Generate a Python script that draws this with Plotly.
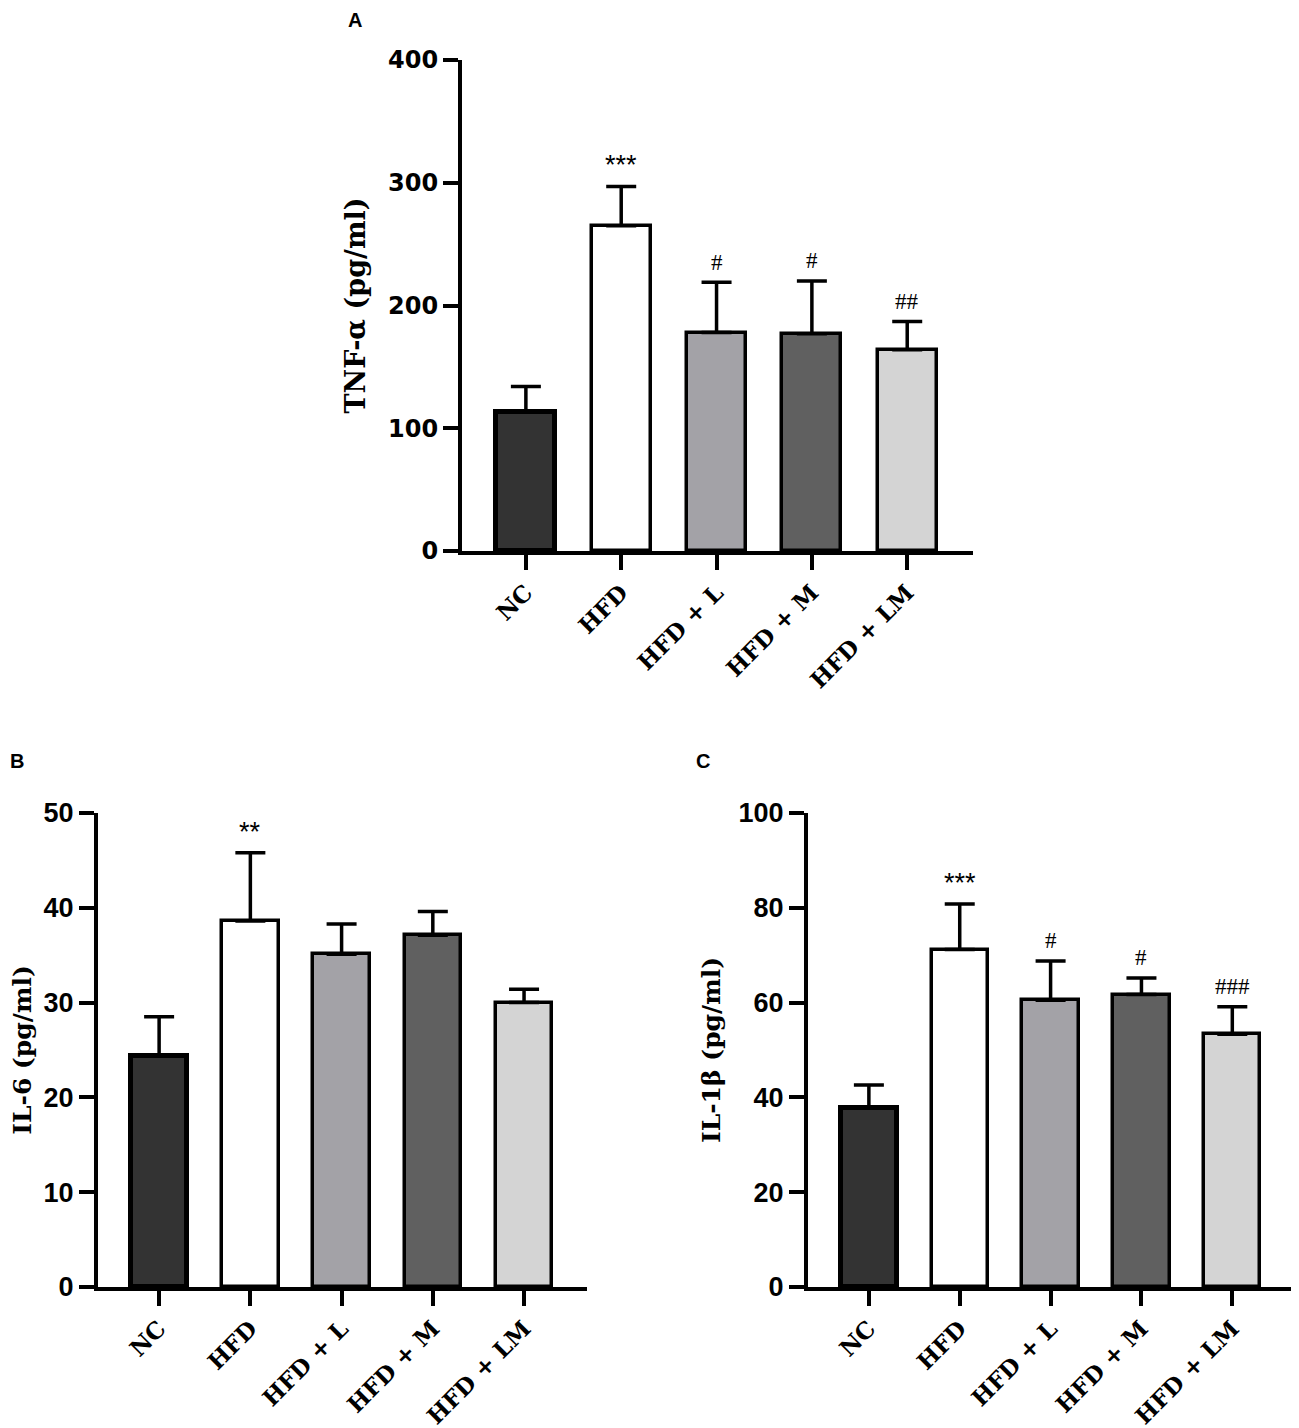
import plotly.graph_objects as go


# Groups and bar colours
groups = ["NC", "HFD", "HFD + L", "HFD + M", "HFD + LM"]
bar_colors = ["#333333", "#ffffff", "#a3a2a7", "#606060", "#d4d4d4"]

# Panel A: TNF-alpha (pg/ml)
tnf_mean = [113, 265, 178, 177, 164]
tnf_err = [21, 32, 41, 43, 23]
tnf_sig = ["", "***", "#", "#", "##"]

# Panel B: IL-6 (pg/ml)
il6_mean = [24.4, 38.6, 35.1, 37.1, 30.0]
il6_err = [4.1, 7.2, 3.2, 2.5, 1.4]
il6_sig = ["", "**", "", "", ""]

# Panel C: IL-1beta (pg/ml)
il1b_mean = [37.7, 71.2, 60.5, 61.7, 53.3]
il1b_err = [4.9, 9.6, 8.3, 3.5, 5.8]
il1b_sig = ["", "***", "#", "#", "###"]


# page body has an 8px margin, so the figure is offset by it
OFF = 8
W, H = 1299 - OFF, 1428 - OFF


def fx(px):
    return (px - OFF) / W


def fy(py):
    return 1 - (py - OFF) / H


SERIF_B = "DejaVu Serif"
SERIF = "Liberation Serif, Times New Roman, serif"

panels = [
    # means, errors, signs, y range, dtick, title, x px domain, y px domain, axes,
    # tick font, tick size, title size, title standoff
    (tnf_mean, tnf_err, tnf_sig, [0, 400], 100, "TNF-α (pg/ml)", (462, 973), (60, 551),
     "x", "y", "DejaVu Sans", 24, 27, 16),
    (il6_mean, il6_err, il6_sig, [0, 50], 10, "IL-6 (pg/ml)", (98, 587), (813, 1287),
     "x2", "y2", "Liberation Sans, Arial", 27, 25, 18),
    (il1b_mean, il1b_err, il1b_sig, [0, 100], 20, "IL-1β (pg/ml)", (808, 1295), (813, 1287),
     "x3", "y3", "Liberation Sans, Arial", 27, 25, 12),
]

fig = go.Figure()
annotations = []
layout = {}

for i, (mean, err, sig, yr, dt, title, xd, yd, xa, ya, tfam, tsize, ttl_size, stand) in enumerate(panels):
    fig.add_trace(
        go.Bar(
            x=groups,
            y=mean,
            width=0.62,
            marker=dict(
                color=bar_colors,
                line=dict(color="black", width=[5, 3.5, 3.5, 3.5, 3.5]),
            ),
            error_y=dict(
                type="data",
                symmetric=False,
                array=err,
                arrayminus=[0] * len(err),
                color="black",
                thickness=3.5,
                width=15,
            ),
            xaxis=xa,
            yaxis=ya,
            showlegend=False,
        )
    )

    # significance marks above the error bars
    for g, m, e, s in zip(groups, mean, err, sig):
        if not s:
            continue
        is_star = s.startswith("*")
        annotations.append(
            dict(
                x=g,
                y=m + e,
                xref=xa,
                yref=ya,
                text=s,
                showarrow=False,
                yanchor="middle",
                yshift=21 if is_star else 20,
                font=dict(
                    family="Liberation Sans, Arial" if is_star else SERIF,
                    size=27 if is_star else 23,
                    color="black",
                ),
            )
        )

    axis_common = dict(
        showgrid=False,
        zeroline=False,
        showline=True,
        linewidth=4,
        linecolor="black",
        ticks="outside",
        ticklen=15,
        tickwidth=4,
        tickcolor="black",
        automargin=False,
    )
    key = "" if i == 0 else str(i + 1)
    layout["xaxis" + key] = dict(
        axis_common,
        domain=[fx(xd[0]), fx(xd[1])],
        anchor=ya,
        type="category",
        categoryorder="array",
        categoryarray=groups,
        range=[-0.67, 4.69],
        tickangle=-45,
        tickfont=dict(family=SERIF_B, size=23, color="black", weight="bold"),
    )
    layout["yaxis" + key] = dict(
        axis_common,
        domain=[fy(yd[1]), fy(yd[0])],
        anchor=xa,
        range=yr,
        dtick=dt,
        tickfont=dict(family=tfam, size=tsize, color="black", weight="bold"),
        title=dict(
            text=title,
            standoff=stand,
            font=dict(family=SERIF_B, size=ttl_size, color="black", weight="bold"),
        ),
    )

# Panel letters
for letter, px, py in [("A", 355, 20), ("B", 17, 761), ("C", 703, 761)]:
    annotations.append(
        dict(
            x=fx(px),
            y=fy(py),
            xref="paper",
            yref="paper",
            text="<b>" + letter + "</b>",
            showarrow=False,
            xanchor="center",
            yanchor="middle",
            font=dict(family="Liberation Sans, Arial", size=20, color="black"),
        )
    )

fig.update_layout(
    layout,
    width=W,
    height=H,
    margin=dict(l=0, r=0, t=0, b=0),
    plot_bgcolor="white",
    paper_bgcolor="white",
    annotations=annotations,
    bargap=0,
)

fig.write_html("out.html")
